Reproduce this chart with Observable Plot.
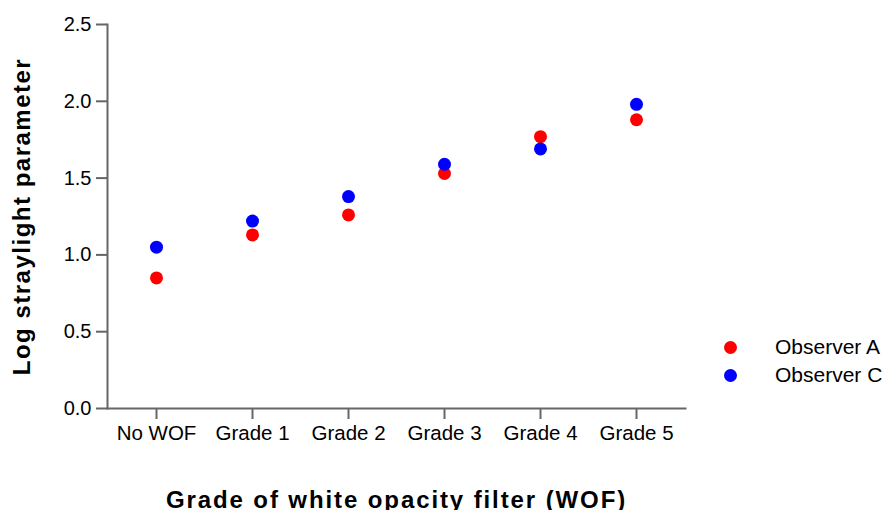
<!DOCTYPE html>
<html>
<head>
<meta charset="utf-8">
<script src="https://cdn.jsdelivr.net/npm/d3@7"></script>
<script src="https://cdn.jsdelivr.net/npm/@observablehq/plot@0.6"></script>
<style>
  html, body { margin: 0; padding: 0; background: #fff; }
  #wrap { position: relative; width: 886px; height: 510px; font-family: "Liberation Sans", Arial, sans-serif; }
  #wrap svg g[aria-label="x-axis label"] text { font-weight: bold; font-size: 24px; letter-spacing: 1.9px; fill: #000; }
  #wrap svg g[aria-label="y-axis label"] text { font-weight: bold; font-size: 24px; letter-spacing: 1.5px; fill: #000; }
  #legend { position: absolute; left: 724px; top: 333px; font-size: 21px; color: #000; }
  #legend .row { display: flex; align-items: center; height: 28px; }
  #legend .sw { width: 13px; height: 13px; border-radius: 50%; margin-right: 38px; }
</style>
</head>
<body>
<div id="wrap"></div>
<script>
const categories = ["No WOF", "Grade 1", "Grade 2", "Grade 3", "Grade 4", "Grade 5"];
const seriesNames = ["Observer A", "Observer C"];
const observerA = [0.85, 1.13, 1.26, 1.53, 1.77, 1.88];
const observerC = [1.05, 1.22, 1.38, 1.59, 1.69, 1.98];
const seriesColors = ["#ff0000", "#0000ff"];
const yTicks = [0, 0.5, 1.0, 1.5, 2.0, 2.5];

const data = [];
[observerA, observerC].forEach((vals, s) => {
  vals.forEach((v, i) => data.push({grade: categories[i], value: v, observer: seriesNames[s]}));
});

const chart = Plot.plot({
  width: 886,
  height: 510,
  marginLeft: 107,
  marginRight: 201,
  marginTop: 24,
  marginBottom: 102,
  style: {fontFamily: '"Liberation Sans", Arial, sans-serif', fontSize: "20px", color: "#000", background: "#fff"},
  x: {type: "point", domain: categories, padding: 0.5},
  y: {domain: [0, 2.5]},
  color: {domain: seriesNames, range: seriesColors},
  marks: [
    Plot.frame({anchor: "left", stroke: "#666", strokeWidth: 2}),
    Plot.frame({anchor: "bottom", stroke: "#666", strokeWidth: 2}),
    Plot.axisY({ticks: yTicks, tickFormat: d3.format(".1f"), tickSize: 11, tickPadding: 5, stroke: "#666", strokeWidth: 2, fontSize: 20,
      label: "Log straylight parameter", labelAnchor: "center", labelOffset: 95, labelArrow: "none"}),
    Plot.axisX({tickSize: 11, tickPadding: 6, stroke: "#666", strokeWidth: 2, fontSize: 20.5,
      label: "Grade of white opacity filter (WOF)", labelAnchor: "center", labelOffset: 99, labelArrow: "none"}),
    Plot.dot(data, {x: "grade", y: "value", fill: "observer", r: 6.5})
  ]
});
document.getElementById("wrap").appendChild(chart);

const legend = document.createElement("div");
legend.id = "legend";
seriesNames.forEach((name, i) => {
  const row = document.createElement("div");
  row.className = "row";
  const sw = document.createElement("span");
  sw.className = "sw";
  sw.style.background = seriesColors[i];
  const t = document.createElement("span");
  t.textContent = name;
  row.appendChild(sw);
  row.appendChild(t);
  legend.appendChild(row);
});
document.getElementById("wrap").appendChild(legend);
</script>
</body>
</html>
